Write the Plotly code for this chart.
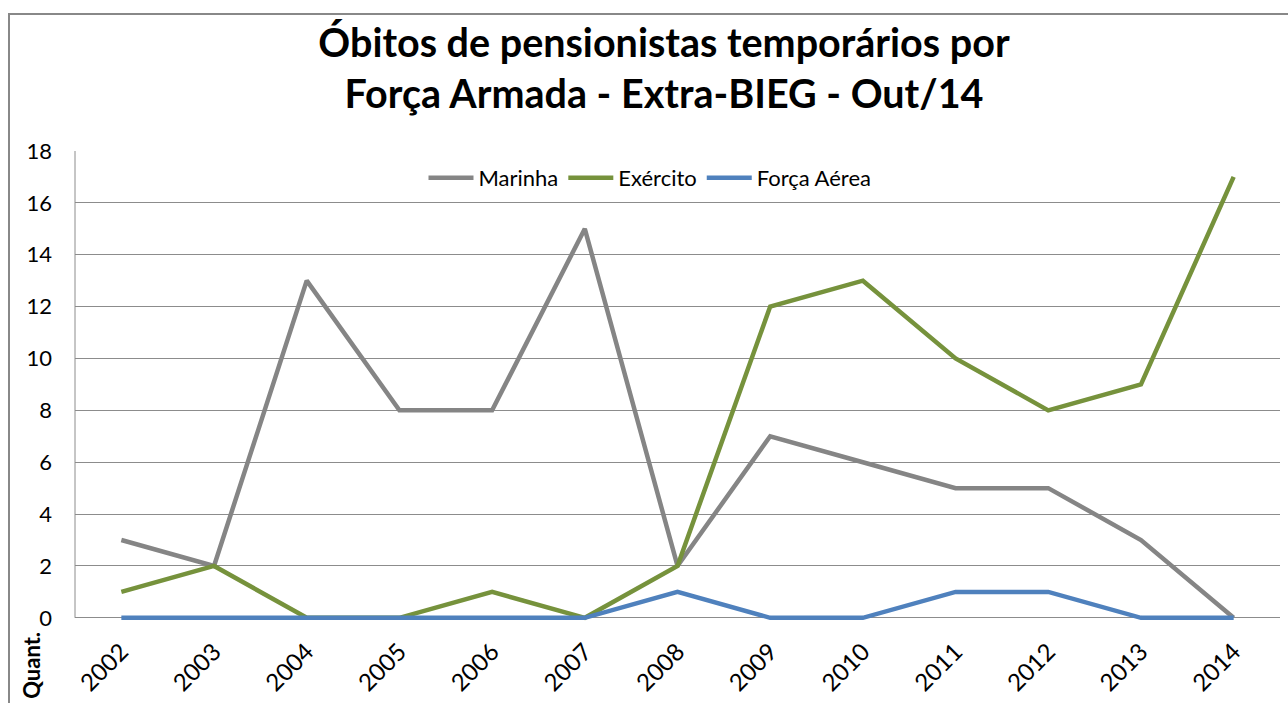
import plotly.graph_objects as go

anos = ["2002", "2003", "2004", "2005", "2006", "2007", "2008", "2009", "2010", "2011", "2012", "2013", "2014"]
marinha = [3, 2, 13, 8, 8, 15, 2, 7, 6, 5, 5, 3, 0]
exercito = [1, 2, 0, 0, 1, 0, 2, 12, 13, 10, 8, 9, 17]
forca_aerea = [0, 0, 0, 0, 0, 0, 1, 0, 0, 1, 1, 0, 0]

FONT = "Lato, 'Open Sans', sans-serif"

fig = go.Figure()
fig.add_trace(go.Scatter(x=anos, y=marinha, mode="lines", name="Marinha",
                         line=dict(color="#858585", width=4.5)))
fig.add_trace(go.Scatter(x=anos, y=exercito, mode="lines", name="Exército",
                         line=dict(color="#76923c", width=4.5)))
fig.add_trace(go.Scatter(x=anos, y=forca_aerea, mode="lines", name="Força Aérea",
                         line=dict(color="#4f81bd", width=4.5)))

W, H = 1288, 703
Y0 = 618          # pixel row of value 0
PX_PER_UNIT = 467 / 18
EXT = 0.2         # small extension below zero so the zero line is not clipped
L, R, T = 75, 8, 151
B = H - Y0 - EXT * PX_PER_UNIT
pw, ph = W - L - R, H - T - B

def px(x):
    return (x - L) / pw

def py(y):
    return (H - B - y) / ph

fig.update_layout(
    width=W, height=H,
    margin=dict(l=L, r=R, t=T, b=B),
    paper_bgcolor="white", plot_bgcolor="white",
    font=dict(family=FONT, color="#000000", size=21),
    title=dict(text="<b>Óbitos de pensionistas temporários por<br>Força Armada - Extra-BIEG - Out/14</b>",
               x=664 / W, xanchor="center", y=1 - 57 / H, yanchor="middle",
               font=dict(family=FONT, size=39.5, color="#000000")),
    showlegend=True,
    legend=dict(orientation="h", x=px(650), xanchor="center", y=py(178), yanchor="middle",
                bgcolor="rgba(0,0,0,0)", font=dict(family=FONT, size=22),
                itemwidth=45, tracegroupgap=0),
    xaxis=dict(type="category", range=[-0.5, 12.5], tickangle=-45,
               showgrid=False, showline=False, ticks="", zeroline=False,
               tickfont=dict(family=FONT, size=24), ticklabelstandoff=9),
    yaxis=dict(range=[-EXT, 18], tickvals=list(range(0, 19, 2)), showgrid=True,
               gridcolor="#8c8c8c", gridwidth=1,
               showline=False, zeroline=False,
               ticks="", tickfont=dict(family=FONT, size=22), ticklabelstandoff=22),
)

# left axis line (0 to 18)
fig.add_shape(type="line", xref="paper", yref="y", x0=0, x1=0, y0=0, y1=18,
              line=dict(color="#8c8c8c", width=1), layer="below")
# outer chart frame
fig.add_shape(type="rect", xref="paper", yref="paper",
              x0=px(9), x1=px(1300), y0=py(720), y1=py(14),
              line=dict(color="#888888", width=2), fillcolor="rgba(0,0,0,0)", layer="below")

fig.add_annotation(text="<b>Quant.</b>", xref="paper", yref="paper",
                   x=px(32), y=py(666), xanchor="center", yanchor="middle",
                   textangle=-90, showarrow=False,
                   font=dict(family=FONT, size=22, color="#000000"))

fig.write_html("out.html", config={"displayModeBar": False},
               post_script="document.body.style.margin='0';document.body.style.padding='0';")
